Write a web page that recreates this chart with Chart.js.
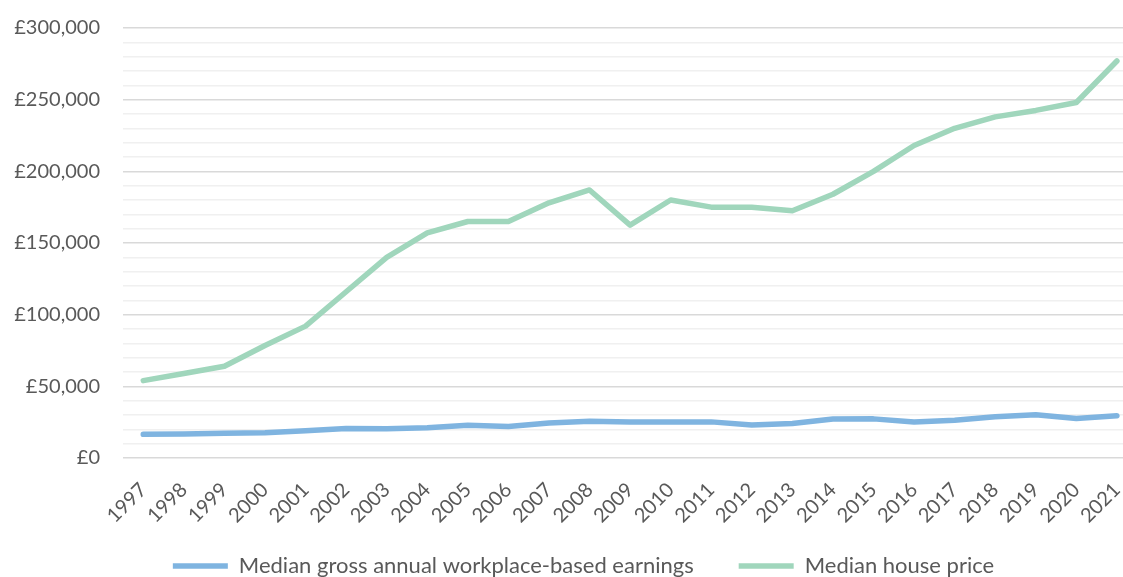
<!DOCTYPE html>
<html>
<head>
<meta charset="utf-8">
<script src="https://cdn.jsdelivr.net/npm/chart.js@4/dist/chart.umd.min.js"></script>
<style>
  html, body { margin: 0; padding: 0; background: #fff; }
  #wrap { width: 1123px; height: 577px; }
</style>
</head>
<body>
<div id="wrap"><canvas id="chart-house-earnings"></canvas></div>
<script>
var years = [1997, 1998, 1999, 2000, 2001, 2002, 2003, 2004, 2005, 2006, 2007, 2008, 2009,
             2010, 2011, 2012, 2013, 2014, 2015, 2016, 2017, 2018, 2019, 2020, 2021];

var earnings = [16500, 16800, 17200, 17600, 19000, 20600, 20400, 21100, 22800, 22000, 24400,
                25700, 25200, 25200, 25200, 23000, 24100, 27200, 27300, 25100, 26300, 28800,
                30100, 27500, 29500];

var housePrice = [54000, 59000, 64000, 78500, 92000, 116000, 140000, 157000, 165000, 165000,
                  178000, 187000, 162500, 180000, 175000, 175000, 172500, 184000, 200000,
                  218000, 230000, 238000, 242500, 248000, 277000];

var seriesNames = ['Median gross annual workplace-based earnings', 'Median house price'];

var textColor = '#595959';
var fontFamily = 'Lato, "Open Sans", sans-serif';

function points(values) {
    return years.map(function(y, i) { return {x: y, y: values[i]}; });
}

// put the legend row where the original has it (a bit lower and right of centre)
var legendNudge = {
    id: 'legendNudge',
    afterLayout: function(chart) {
        var lg = chart.legend;
        lg.top = 566 - 45 - 11;
        lg.left += 44;
    }
};

var ctx = document.getElementById('chart-house-earnings');
var chart = new Chart(ctx, {
    type: 'line',
    data: {
        datasets: [
            {
                label: seriesNames[0],
                data: points(earnings),
                borderColor: '#7FB4E0',
                backgroundColor: '#7FB4E0',
                borderWidth: 5.5,
                borderCapStyle: 'round',
                borderJoinStyle: 'round',
                pointRadius: 0,
                tension: 0
            },
            {
                label: seriesNames[1],
                data: points(housePrice),
                borderColor: '#A0D6BC',
                backgroundColor: '#A0D6BC',
                borderWidth: 5.5,
                borderCapStyle: 'round',
                borderJoinStyle: 'round',
                pointRadius: 0,
                tension: 0
            }
        ]
    },
    plugins: [legendNudge],
    options: {
        responsive: true,
        maintainAspectRatio: false,
        animation: false,
        layout: { padding: { top: 28, left: 0, right: 0, bottom: 0 } },
        plugins: {
            tooltip: { enabled: false },
            legend: {
                position: 'bottom',
                maxHeight: 49,
                labels: {
                    usePointStyle: true,
                    pointStyle: 'line',
                    pointStyleWidth: 55,
                    padding: 45,
                    color: textColor,
                    font: { family: fontFamily, size: 22 }
                }
            }
        },
        scales: {
            x: {
                type: 'linear',
                min: 1996.5,
                max: 2021.15,
                grid: { display: false },
                border: { display: false },
                afterBuildTicks: function(scale) {
                    scale.ticks = years.map(function(y) { return {value: y}; });
                },
                afterFit: function(scale) {
                    scale.paddingLeft = 0;
                    scale.paddingRight = 0;
                    scale.height = 70;
                },
                ticks: {
                    autoSkip: false,
                    minRotation: 45,
                    maxRotation: 45,
                    padding: 12,
                    color: textColor,
                    font: { family: fontFamily, size: 20 },
                    callback: function(v) { return String(v); }
                }
            },
            y: {
                min: 0,
                max: 300000,
                border: { display: false },
                afterFit: function(scale) {
                    scale.width = 123;
                    scale.paddingTop = 0;
                    scale.paddingBottom = 0;
                },
                grid: {
                    drawTicks: false,
                    lineWidth: 1.5,
                    color: function(c) {
                        return c.tick && c.tick.value % 50000 === 0 ? '#D9D9D9' : '#F0F0F0';
                    }
                },
                ticks: {
                    stepSize: 10000,
                    autoSkip: false,
                    padding: 23,
                    color: textColor,
                    font: { family: fontFamily, size: 20 },
                    callback: function(v) {
                        if (v % 50000 !== 0) return '';
                        return '£' + v.toLocaleString('en-GB');
                    }
                }
            }
        }
    }
});
</script>
</body>
</html>
